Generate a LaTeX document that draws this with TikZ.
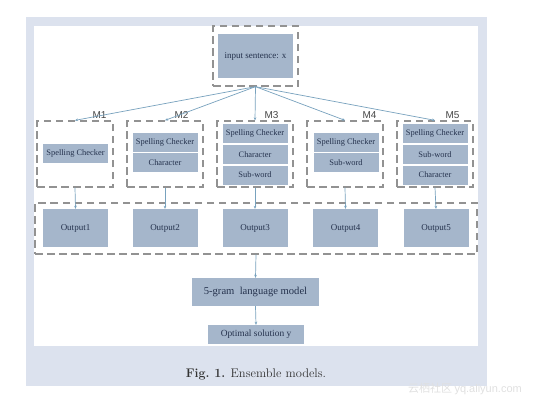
\documentclass[tikz,border=0pt]{standalone}
\usepackage{fontspec}
\usepackage{xcolor}
\usepackage{tikz}
\usetikzlibrary{arrows.meta}
\usetikzlibrary{positioning}
\newfontfamily\boxfont{Liberation Serif}
\newfontfamily\labfont{Liberation Sans}
\newfontfamily\cjk{Noto Sans CJK SC}
\definecolor{pagebg}{HTML}{DCE2EE}
\definecolor{boxfill}{HTML}{A5B6CB}
\definecolor{boxtext}{HTML}{25324D}
\definecolor{dashgray}{HTML}{929292}
\definecolor{linkblue}{HTML}{78A2BE}

\begin{document}
\begin{tikzpicture}[x=1pt,y=-1pt,
  blk/.style={fill=boxfill,inner sep=0pt,minimum width=65pt,minimum height=19pt,
    text=boxtext,font=\boxfont\fontsize{8.4}{9}\selectfont},
  group/.style={draw=dashgray,line width=1.3pt,dash pattern=on 7.5pt off 4.5pt,
    inner sep=0pt,minimum width=76pt,minimum height=66pt},
  mlabel/.style={anchor=south east,inner sep=1pt,xshift=-6pt,yshift=1pt,
    text=black!72,font=\labfont\fontsize{10}{11}\selectfont},
  link/.style={draw=linkblue,line width=0.7pt,-{Stealth[length=3pt,width=2.6pt]}}]
\useasboundingbox (0,0) rectangle (533,408);
\fill[pagebg] (26,17) rectangle (487,386);
\fill[white] (34,26) rectangle (478,346);

% input
\node[group,minimum width=85pt,minimum height=60pt] (in) at (255.5,56) {};
\node[blk,minimum width=75pt,minimum height=44pt,font=\boxfont\fontsize{9}{10}\selectfont] (inbox) at (255.5,56) {input sentence: x};

% five models
\node[group] (m1) at (75,154) {};
\node[group] (m2) at (165,154) {};
\node[group] (m3) at (255,154) {};
\node[group] (m4) at (345,154) {};
\node[group] (m5) at (435,154) {};
\node[mlabel] (l1) at (m1.north east) {M1};
\node[mlabel,xshift=-8pt] (l2) at (m2.north east) {M2};
\node[mlabel,xshift=-8pt] (l3) at (m3.north east) {M3};
\node[mlabel] (l4) at (m4.north east) {M4};
\node[mlabel,xshift=-7pt] (l5) at (m5.north east) {M5};

\node[blk] (m1a) at (75.5,153.5) {Spelling Checker};
\node[blk] (m2a) at (165,142) {Spelling Checker};
\node[blk] (m2b) at (165,162.5) {Character};
\node[blk] (m3a) at (255,133.5) {Spelling Checker};
\node[blk] (m3b) at (255,154.5) {Character};
\node[blk] (m3c) at (255,175) {Sub-word};
\node[blk] (m4a) at (346,142) {Spelling Checker};
\node[blk] (m4b) at (346,162.5) {Sub-word};
\node[blk] (m5a) at (435,133.5) {Spelling Checker};
\node[blk] (m5b) at (435,154.5) {Sub-word};
\node[blk] (m5c) at (435,175) {Character};

% outputs
\node[group,minimum width=442pt,minimum height=51pt] (outs) at (256,228.5) {};
\node[blk,minimum height=38pt,font=\boxfont\fontsize{9}{10}\selectfont] (o1) at (75.5,228) {Output1};
\node[blk,minimum height=38pt,font=\boxfont\fontsize{9}{10}\selectfont] (o2) at (165,228) {Output2};
\node[blk,minimum height=38pt,font=\boxfont\fontsize{9}{10}\selectfont] (o3) at (255,228) {Output3};
\node[blk,minimum height=38pt,font=\boxfont\fontsize{9}{10}\selectfont] (o4) at (345.5,228) {Output4};
\node[blk,minimum height=38pt,font=\boxfont\fontsize{9}{10}\selectfont] (o5) at (436,228) {Output5};

% language model
\node[blk,minimum width=127pt,minimum height=28pt,font=\boxfont\fontsize{10.6}{12}\selectfont] (lm) at (255.5,292) {5-gram\ \ language model};
\node[blk,minimum width=96pt,font=\boxfont\fontsize{9.4}{10}\selectfont] (best) at (256,334.5) {Optimal solution y};

\draw[link] (in.south) -- (m1.north);
\draw[link] (in.south) -- (m2.north);
\draw[link] (in.south) -- (m3.north);
\draw[link] (in.south) -- (m4.north);
\draw[link] (in.south) -- (m5.north);
\draw[link] (m1.south) -- (o1.north);
\draw[link] (m2.south) -- (o2.north);
\draw[link] (m3.south) -- (o3.north);
\draw[link] (m4.south) -- (o4.north);
\draw[link] (m5.south) -- (o5.north);
\draw[link] (outs.south) -- (lm.north);
\draw[link] (lm.south) -- (best.north);

\node[font=\fontsize{12.5}{14}\selectfont,text=black!80] (cap) at (256,374) {\textbf{Fig.~1.} Ensemble models.};
\node[anchor=east,inner sep=0pt,text=black!12,font=\fontsize{11}{12}\selectfont] (wm) at (522,389) {\cjk 云栖社区\ \labfont yq.aliyun.com};
\end{tikzpicture}
\end{document}
